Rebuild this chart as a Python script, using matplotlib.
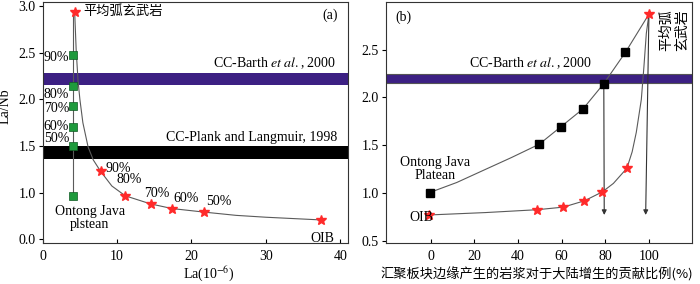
import matplotlib
matplotlib.use('Agg')

import matplotlib.pyplot as plt

plt.rcParams['font.family'] = ['Liberation Serif', 'Noto Sans CJK SC', 'DejaVu Sans']
plt.rcParams['mathtext.fontset'] = 'stix'
plt.rcParams['font.size'] = 10

# ---- panel (a) data ----
sq_a_la = [4.1, 4.1, 4.1, 4.1, 4.1, 4.1]
sq_a_ratio = [2.48, 2.147, 1.925, 1.70, 1.495, 0.965]
sq_a_labels = ['90%', '80%', '70%', '60%', '50%']
sq_a_label_y = [2.45, 2.05, 1.90, 1.71, 1.585]

star_a_la = [4.3, 7.8, 11.1, 14.5, 17.4, 21.7, 37.4]
star_a_ratio = [2.935, 1.226, 0.965, 0.878, 0.828, 0.79, 0.706]
star_a_labels = ['90%', '80%', '70%', '60%', '50%']
star_a_label_x = [8.45, 9.9, 13.7, 17.5, 22.0]
star_a_label_y = [1.26, 1.136, 0.986, 0.932, 0.90]

curve_a_la = [4.3, 4.5, 4.75, 5.0, 5.4, 6.1, 6.8, 7.8, 9.3, 11.1, 14.5, 17.4, 21.7, 26.0, 30.0, 37.4]
curve_a_ratio = [2.935, 2.53, 2.2, 2.0, 1.75, 1.49, 1.35, 1.226, 1.07, 0.965, 0.878, 0.828, 0.79, 0.755, 0.735, 0.706]

yticks_a = [0.5, 1.0, 1.5, 2.0, 2.5, 3.0]
ytick_labels_a = ['0.0', '1.0', '1.5', '2.0', '2.5', '3.0']
xticks_a = [0, 10, 20, 30, 40]

barth_a = (2.158, 2.284)
plank_a = (1.36, 1.50)

# ---- panel (b) data ----
sq_b_pct = [-0.5, 49.8, 59.6, 69.9, 79.4, 89.3]
sq_b_ratio = [1.004, 1.51, 1.69, 1.88, 2.144, 2.47]
curve_b1_pct = [-0.5, 12, 24, 37, 49.8, 59.6, 69.9, 79.4, 89.3, 100.1]
curve_b1_ratio = [1.004, 1.11, 1.235, 1.37, 1.51, 1.69, 1.88, 2.144, 2.47, 2.87]

star_b_pct = [-0.8, 48.9, 60.8, 70.5, 78.7, 90.0, 100.1]
star_b_ratio = [0.77, 0.825, 0.852, 0.918, 1.011, 1.259, 2.87]
curve_b2_pct = [-0.8, 25, 48.9, 60.8, 70.5, 78.7, 83.8, 90.0, 92.4, 94.3, 96.6, 97.8, 98.9, 100.1]
curve_b2_ratio = [0.77, 0.795, 0.825, 0.852, 0.918, 1.011, 1.10, 1.259, 1.43, 1.634, 1.976, 2.32, 2.668, 2.87]

arrow_start = [(79.4, 2.144), (100.1, 2.87)]
arrow_end = [(79.6, 0.77), (98.6, 0.77)]

xticks_b = [0, 20, 40, 60, 80, 100]
yticks_b = [0.5, 1.0, 1.5, 2.0, 2.5]
barth_b = (2.148, 2.245)

purple = '#3c2083'
green = '#1e9a3c'
red = '#ff2a2a'
linec = '#5a5a5a'

fig = plt.figure(figsize=(7, 2.84), dpi=100)
ax1 = fig.add_axes([0.061, 0.1433, 0.4357, 0.851])
ax2 = fig.add_axes([0.5514, 0.1454, 0.4367, 0.8486])

# ---------- (a) ----------
ax1.axhspan(barth_a[0], barth_a[1], color=purple, lw=0, zorder=1)
ax1.axhspan(plank_a[0], plank_a[1], color='black', lw=0, zorder=1)
ax1.plot([sq_a_la[0], sq_a_la[-1]], [star_a_ratio[0], sq_a_ratio[-1]], color=linec, lw=0.8, zorder=2)
ax1.plot(curve_a_la, curve_a_ratio, color=linec, lw=0.8, zorder=2)
ax1.plot(sq_a_la, sq_a_ratio, 's', color=green, mec='#0e5a22', mew=0.5, ms=5.5, zorder=3)
ax1.plot(star_a_la, star_a_ratio, '*', color=red, mec=red, ms=7, zorder=4)

for lab, y in zip(sq_a_labels, sq_a_label_y):
    ax1.text(0.15, y, lab, ha='left', va='center')
for lab, x, y in zip(star_a_labels, star_a_label_x, star_a_label_y):
    ax1.text(x, y, lab, ha='left', va='center')

ax1.text(5.4, 2.94, '平均弧玄武岩', ha='left', va='center', fontsize=9.5,
         family=['Noto Sans CJK SC'])
ax1.text(38.6, 2.90, '(a)', ha='center', va='center')
ax1.text(39.4, 2.384, 'CC-Barth $\\it{et\\ al.}$, 2000', ha='right', va='center')
ax1.text(39.6, 1.594, 'CC-Plank and Langmuir, 1998', ha='right', va='center')
ax1.text(6.3, 0.726, 'Ontong Java\nplstean', ha='center', va='center', linespacing=1.0)
ax1.text(37.6, 0.505, 'OIB', ha='center', va='center')

ax1.set_xlim(0, 41)
ax1.set_ylim(0.455, 3.05)
ax1.set_xticks(xticks_a)
ax1.set_yticks(yticks_a)
ax1.set_yticklabels(ytick_labels_a)
ax1.tick_params(axis='x', direction='in', length=3, pad=5)
ax1.tick_params(axis='y', direction='out', length=3, pad=2)
ax1.set_xlabel('La(10$^{-6}$)')
ax1.xaxis.set_label_coords(0.545, -0.088)
ax1.set_ylabel('La/Nb')
ax1.yaxis.set_label_coords(-0.102, 0.568)

# ---------- (b) ----------
ax2.axhspan(barth_b[0], barth_b[1], facecolor=purple, edgecolor='#555555', lw=0.8, zorder=1)
ax2.plot(curve_b1_pct, curve_b1_ratio, color=linec, lw=0.8, zorder=2)
ax2.plot(curve_b2_pct, curve_b2_ratio, color=linec, lw=0.8, zorder=2)
for s, e in zip(arrow_start, arrow_end):
    ax2.annotate('', xy=e, xytext=s,
                 arrowprops=dict(arrowstyle='-|>', color='#333333', lw=0.8,
                                 mutation_scale=7, shrinkA=0, shrinkB=0), zorder=2)
ax2.plot(sq_b_pct, sq_b_ratio, 's', color='black', ms=6, zorder=3)
ax2.plot(star_b_pct, star_b_ratio, '*', color=red, mec=red, ms=7, zorder=4)

ax2.text(-12.7, 2.84, '(b)', ha='center', va='center')
ax2.text(46, 2.36, 'CC-Barth $\\it{et\\ al.}$, 2000', ha='center', va='center')
ax2.text(2.0, 1.25, 'Ontong Java\nPlatean', ha='center', va='center', linespacing=1.0)
ax2.text(-4.1, 0.745, 'OIB', ha='center', va='center', zorder=5)
ax2.text(111.5, 2.70, '平均弧\n玄武岩', ha='center', va='center', rotation=90,
         fontsize=10, linespacing=1.15, family=['Noto Sans CJK SC'])

ax2.set_xlim(-20.5, 119.7)
ax2.set_ylim(0.48, 3.0)
ax2.set_xticks(xticks_b)
ax2.set_yticks(yticks_b)
ax2.tick_params(axis='x', direction='in', length=3, pad=5)
ax2.tick_params(axis='y', direction='out', length=3, pad=2)
ax2.set_xlabel('汇聚板块边缘产生的岩浆对于大陆增生的贡献比例(%)',
               family=['Noto Sans CJK SC', 'Liberation Serif'], fontsize=9.5)
ax2.xaxis.set_label_coords(0.494, -0.1)

for ax in (ax1, ax2):
    for sp in ax.spines.values():
        sp.set_linewidth(0.8)
        sp.set_color('#333333')

fig.savefig('out.png', dpi=100)
